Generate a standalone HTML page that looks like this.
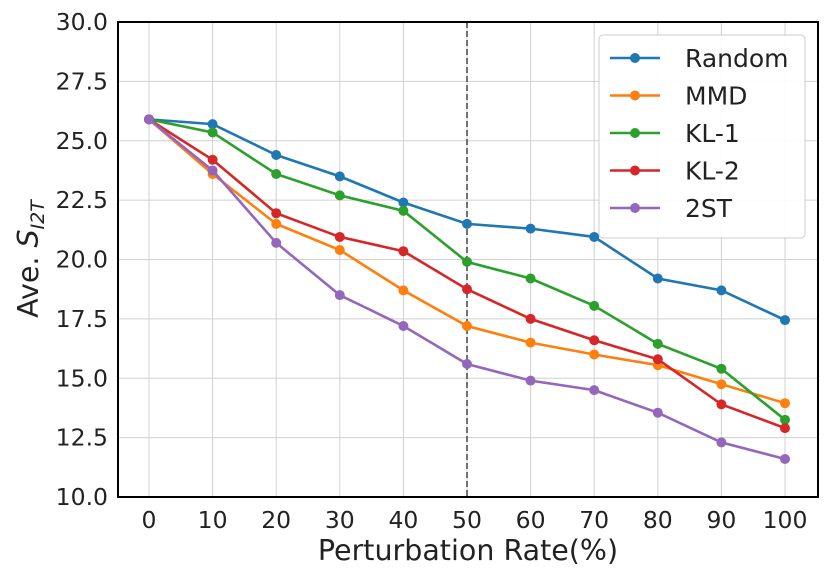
<!DOCTYPE html>
<html><head><meta charset="utf-8"><style>
body{margin:0;background:#fff}
svg text{font-family:"DejaVu Sans","Liberation Sans",sans-serif;fill:#222}
</style></head><body>
<svg id="c" width="830" height="581" xmlns="http://www.w3.org/2000/svg"></svg>
<script>
const categories=[0,10,20,30,40,50,60,70,80,90,100];
const yTicks=[10,12.5,15,17.5,20,22.5,25,27.5,30];
const seriesNames=["Random","MMD","KL-1","KL-2","2ST"];
const colors=["#1f77b4","#ff7f0e","#2ca02c","#d62728","#9467bd"];
const random=[25.9,25.7,24.4,23.5,22.4,21.5,21.3,20.95,19.2,18.7,17.45];
const mmd=[25.9,23.6,21.5,20.4,18.7,17.2,16.5,16.0,15.55,14.75,13.95];
const kl1=[25.9,25.35,23.6,22.7,22.05,19.9,19.2,18.05,16.45,15.4,13.25];
const kl2=[25.9,24.2,21.95,20.95,20.35,18.75,17.5,16.6,15.8,13.9,12.9];
const st2=[25.9,23.75,20.7,18.5,17.2,15.6,14.9,14.5,13.55,12.3,11.6];
const series=[random,mmd,kl1,kl2,st2];
const NS="http://www.w3.org/2000/svg";
const svg=document.getElementById('c');
const L=118,R=818,T=22,B=497;
const x=v=>149+(785-149)*v/100;
const y=v=>B-(v-10)/20*(B-T);
function mk(t,a,p){const e=document.createElementNS(NS,t);for(const k in a)e.setAttribute(k,a[k]);(p||svg).appendChild(e);return e;}
categories.forEach(c=>{let g=mk('line',{x1:x(c),x2:x(c),y1:T,y2:B,stroke:'#d0d0d0','stroke-width':1});

let t=mk('text',{x:x(c),y:B+31,'text-anchor':'middle','font-size':23.5});t.textContent=c;
});
yTicks.forEach(v=>{let g=mk('line',{x1:L,x2:R,y1:y(v),y2:y(v),stroke:'#d0d0d0','stroke-width':1});

let t=mk('text',{x:L-10,y:y(v)+8,'text-anchor':'end','font-size':23.5});t.textContent=v.toFixed(1);
});
let vl=mk('line',{x1:x(50),x2:x(50),y1:T,y2:B,stroke:'#444','stroke-width':1.5,'stroke-dasharray':'6,3'});

series.forEach((s,i)=>{let p=mk('polyline',{points:s.map((v,j)=>x(categories[j])+','+y(v)).join(' '),fill:'none',stroke:colors[i],'stroke-width':2.6});

s.forEach((v,j)=>{let c=mk('circle',{cx:x(categories[j]),cy:y(v),r:5,fill:colors[i]});
});});
let fr=mk('rect',{x:L,y:T,width:R-L,height:B-T,fill:'none',stroke:'#000','stroke-width':2});

let lg=mk('g',{});
mk('rect',{x:599,y:35,width:206,height:203,rx:4,fill:'#fff','fill-opacity':0.9,stroke:'#ccc'},lg);
seriesNames.forEach((n,i)=>{const yy=58+i*37.5;
let e=mk('g',{},lg);
mk('line',{x1:610,x2:660,y1:yy,y2:yy,stroke:colors[i],'stroke-width':2.6},e);
mk('circle',{cx:635,cy:yy,r:5,fill:colors[i]},e);
let t=mk('text',{x:685,y:yy+9,'font-size':25},e);t.textContent=n;});
let xt=mk('text',{x:468,y:560,'text-anchor':'middle','font-size':28.5});xt.textContent='Perturbation Rate(%)';

let yt=mk('text',{x:0,y:0,'text-anchor':'middle','font-size':28.5,transform:'translate(38,259) rotate(-90)'});
yt.innerHTML='Ave. <tspan font-style="italic">S</tspan><tspan font-style="italic" font-size="19" dy="6">I2T</tspan>';

</script>
</body></html>
